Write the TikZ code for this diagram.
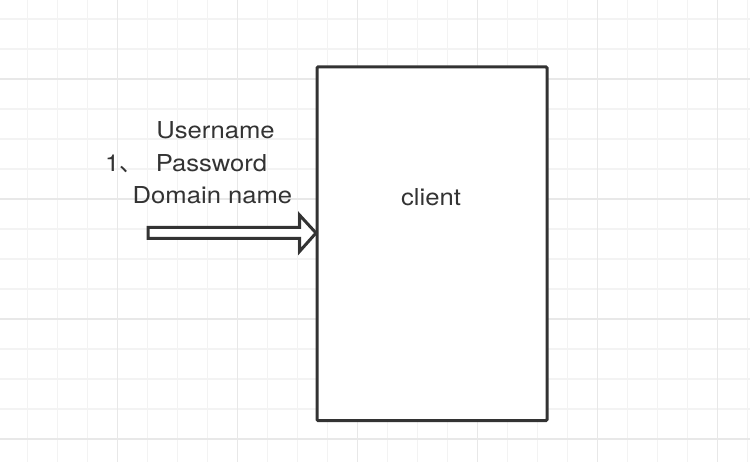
\documentclass[tikz,border=0pt]{standalone}
\usepackage{fontspec}
\newfontfamily\lab{TeX Gyre Heros}[FakeStretch=1.1]
\newfontfamily\cjk{Noto Sans CJK SC}
\definecolor{ink}{HTML}{333333}
\definecolor{gridminor}{HTML}{F3F3F3}
\definecolor{gridmajor}{HTML}{E8E8E8}
\tikzset{
  gridminorline/.style={draw=gridminor, line width=1.2pt},
  gridmajorline/.style={draw=gridmajor, line width=1.6pt},
  outline/.style={draw=ink, line width=3pt, fill=white},
  txt/.style={font=\lab\fontsize{23.3}{28}\selectfont, text=ink, inner sep=0pt, anchor=base},
}
\begin{document}
\begin{tikzpicture}[x=1pt,y=-1pt]
\useasboundingbox (0,0) rectangle (750,462);
\fill[white] (0,0) rectangle (750,462);
% grid
\foreach \gx in {27.5,57.5,...,747.5} \draw[gridminorline] (\gx,0) -- (\gx,462);
\foreach \gy in {19,49,...,461} \draw[gridminorline] (0,\gy) -- (750,\gy);
\foreach \gx in {117.5,237.5,...,717.5} \draw[gridmajorline] (\gx,0) -- (\gx,462);
\foreach \gy in {79,199,...,439} \draw[gridmajorline] (0,\gy) -- (750,\gy);
% client box
\draw[outline, rounded corners=1pt] (317,67) rectangle (547,420.5);
\node[txt] (client) at (431,206) {client};
\coordinate (boxleft) at (316,233);
% block arrow
\draw[outline, line join=miter] (148,227.5) -- (299.5,227.5) -- (299.5,215) -- (boxleft) -- (299.5,251.5) -- (299.5,238.5) -- (148,238.5) -- cycle;
% labels
\node[txt] (lbl1) at (215.5,139) {Username};
\node[txt] (lbl2) at (211.5,171.5) {\makebox[0pt][r]{1{\cjk 、}\hspace{13pt}}Password};
\node[txt] (lbl3) at (212.5,203.3) {Domain name};
\end{tikzpicture}
\end{document}
